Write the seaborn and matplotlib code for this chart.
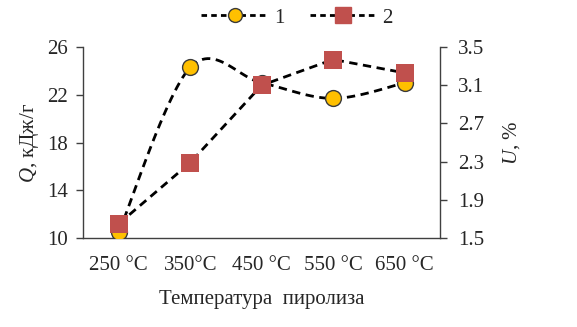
import matplotlib
matplotlib.use("Agg")
import matplotlib.pyplot as plt
import numpy as np
import pandas as pd
import seaborn as sns
from matplotlib.lines import Line2D

sns.set_theme(style="white")
plt.rcParams["font.family"] = ["Liberation Serif", "DejaVu Serif"]
plt.rcParams["mathtext.fontset"] = "custom"
plt.rcParams["mathtext.it"] = "Liberation Serif:italic"
plt.rcParams["mathtext.rm"] = "Liberation Serif"

categories = ["250 °C", "350°C", "450 °C", "550 °C", "650 °C"]
q_values = [10.5, 24.3, 23.0, 21.7, 23.0]   # series 1, left axis
u_values = [1.65, 2.29, 3.10, 3.37, 3.23]   # series 2, right axis
left_ticks = [10, 14, 18, 22, 26]
right_ticks = [1.5, 1.9, 2.3, 2.7, 3.1, 3.5]

GOLD = "#FFC000"
RED = "#C0504D"


def smooth_curve(x, y, n=30):
    # Excel-style smoothed line: cubic Bezier with Catmull-Rom control points
    x = np.asarray(x, float)
    y = np.asarray(y, float)
    px = np.concatenate([[x[0]], x, [x[-1]]])
    py = np.concatenate([[y[0]], y, [y[-1]]])
    xs, ys = [], []
    t = np.linspace(0, 1, n)
    for i in range(1, len(px) - 2):
        p0 = np.array([px[i], py[i]])
        p3 = np.array([px[i + 1], py[i + 1]])
        c1 = p0 + (np.array([px[i + 1], py[i + 1]]) - np.array([px[i - 1], py[i - 1]])) / 6
        c2 = p3 - (np.array([px[i + 2], py[i + 2]]) - np.array([px[i], py[i]])) / 6
        b = ((1 - t) ** 3)[:, None] * p0 + (3 * (1 - t) ** 2 * t)[:, None] * c1 \
            + (3 * (1 - t) * t ** 2)[:, None] * c2 + (t ** 3)[:, None] * p3
        xs.append(b[:, 0])
        ys.append(b[:, 1])
    return np.concatenate(xs), np.concatenate(ys)


df = pd.DataFrame({"pos": np.arange(len(categories)), "Q": q_values, "U": u_values})

fig = plt.figure(figsize=(5.77, 3.27), dpi=100)
ax = fig.add_axes([0.144, 0.272, 0.619, 0.584])
ax2 = ax.twinx()

sx, sy = smooth_curve(df["pos"], df["Q"])
ax.plot(sx, sy, color="black", ls=(0, (3, 2)), lw=2, zorder=2)
sns.scatterplot(data=df, x="pos", y="Q", ax=ax, marker="o", s=130, color=GOLD,
                edgecolor="#3a3a3a", linewidth=1, zorder=3, legend=False)

sns.lineplot(data=df, x="pos", y="U", ax=ax2, color="black", lw=2,
             legend=False, zorder=2)
ax2.lines[-1].set_linestyle((0, (3, 2)))
sns.scatterplot(data=df, x="pos", y="U", ax=ax2, marker="s", s=170, color=RED,
                edgecolor=RED, linewidth=0, zorder=3, legend=False)

ax.set_xlim(-0.5, 4.5)
ax.set_ylim(10, 26)
ax2.set_ylim(1.5, 3.5)
ax.set_yticks(left_ticks)
ax2.set_yticks(right_ticks)
ax2.set_yticklabels([f"{v:.1f}" for v in right_ticks])

ax.set_xticks(range(len(categories)))
ax.set_xticklabels(categories)
ax.tick_params(axis="x", which="major", length=0, pad=13, labelsize=15)
ax.set_xticks(np.arange(-0.5, 5, 1), minor=True)
ax.tick_params(axis="x", which="minor", direction="inout", length=10, width=1, color="#404040")
ax.tick_params(axis="y", direction="out", length=5, width=1, color="#404040", labelsize=15, pad=6,
               left=True)
ax2.tick_params(axis="y", direction="out", length=5, width=1, color="#404040", labelsize=15, pad=8,
                right=True)

for a in (ax, ax2):
    a.spines["top"].set_visible(False)
    for s in ("left", "right", "bottom"):
        a.spines[s].set_color("#404040")
        a.spines[s].set_linewidth(1)
    a.grid(False)
ax.spines["right"].set_visible(False)
ax2.spines["left"].set_visible(False)
ax2.spines["bottom"].set_visible(False)

ax.set_xlabel("Температура  пиролиза", fontsize=15, labelpad=11)
ax.set_ylabel(r"$Q$, кДж/г", fontsize=15, labelpad=4)
ax2.set_ylabel(r"$U$, %", fontsize=15, labelpad=12)

handles = [
    Line2D([], [], color="black", ls=(0, (2, 1.5)), lw=2, marker="o", markersize=10,
           markerfacecolor=GOLD, markeredgecolor="#3a3a3a"),
    Line2D([], [], color="black", ls=(0, (2, 1.5)), lw=2, marker="s", markersize=11,
           markerfacecolor=RED, markeredgecolor=RED),
]
fig.legend(handles, ["1", "2"], loc="center", bbox_to_anchor=(0.515, 0.945), ncol=2,
           frameon=False, fontsize=15, handlelength=3.2, handletextpad=0.3, columnspacing=1.2)

fig.savefig("out.png", dpi=100)
